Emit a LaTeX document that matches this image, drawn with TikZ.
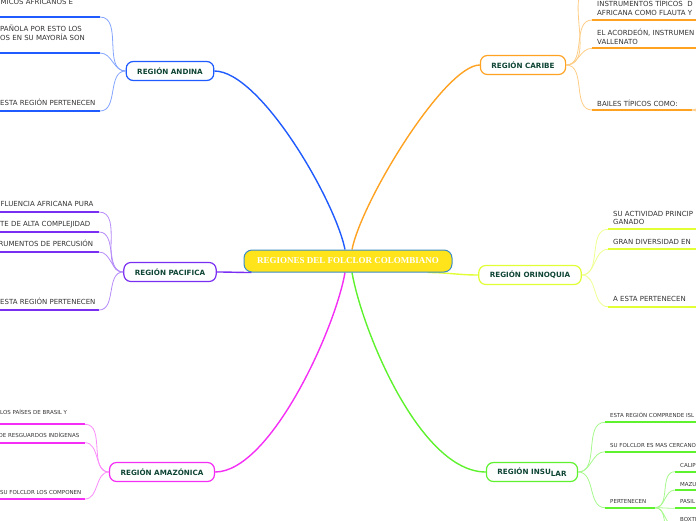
\documentclass[tikz,border=0pt]{standalone}
\usepackage{fontspec}
\setmainfont{DejaVu Sans}
\newfontfamily\titlefont{Liberation Serif}
\usetikzlibrary{calc, positioning}
\usetikzlibrary{backgrounds}

\definecolor{rootfill}{HTML}{FFE41C}
\definecolor{rootline}{HTML}{3A8CC8}
\definecolor{andinacol}{HTML}{1F5BFF}
\definecolor{caribecol}{HTML}{FFA221}
\definecolor{pacificacol}{HTML}{7A2EF2}
\definecolor{orinoquiacol}{HTML}{E2FF36}
\definecolor{amazonicacol}{HTML}{F52EF5}
\definecolor{insularcol}{HTML}{5EF22E}
\definecolor{regiontext}{HTML}{0F4535}
\definecolor{leaftext}{HTML}{333333}

\begin{document}
\begin{tikzpicture}[x=1pt,y=-1pt,
  root/.style={draw=rootline, fill=rootfill, line width=1pt, rounded corners=8pt,
    minimum width=208pt, minimum height=22pt, text=white,
    font=\titlefont\bfseries\fontsize{9}{10}\selectfont},
  region/.style={draw=#1, line width=1.2pt, fill=white, rounded corners=7pt,
    minimum height=19pt, inner xsep=11pt, inner ysep=0pt, text=regiontext,
    font=\bfseries\fontsize{7.2}{8}\selectfont},
  leaf/.style={anchor=base west, inner sep=0pt, align=left, text=leaftext,
    font=\fontsize{7}{8.5}\selectfont},
  leafsmall/.style={leaf, font=\fontsize{5.5}{7}\selectfont},
  uline/.style={draw=#1, line width=2pt},
  conn/.style={draw=#1!55, line width=0.8pt},
  trunk/.style={draw=#1, line width=1.4pt}]
\useasboundingbox (0,0) rectangle (696,520);

\node[root] (root) at (348,261) {REGIONES DEL FOLCLOR COLOMBIANO};

\node[region=andinacol] (andina) at (170,71) {REGIÓN ANDINA};
\node[region=caribecol] (caribe) at (523,65) {REGIÓN CARIBE};
\node[region=pacificacol] (pacifica) at (170,272) {REGIÓN PACIFICA};
\node[region=orinoquiacol] (orinoquia) at (530,275) {REGIÓN ORINOQUIA};
\node[region=amazonicacol] (amazonica) at (162,472) {REGIÓN AMAZÓNICA};
\node[region=insularcol] (insular) at (532,472) {REGIÓN INSU\raisebox{-1.5pt}{LAR}};

\begin{scope}[on background layer]
\draw[trunk=andinacol] ($(root.north)+(-3,0)$) .. controls (335,200) and (260,71) .. (andina.east);
\draw[trunk=caribecol] ($(root.north)+(4,0)$) .. controls (362,200) and (445,65) .. (caribe.west);
\draw[trunk=pacificacol] ($(root.south west)+(8,0)$) to[out=180,in=0] (pacifica.east);
\draw[trunk=orinoquiacol] ($(root.south east)+(-25,0)$) to[out=0,in=180] (orinoquia.west);
\draw[trunk=amazonicacol] ($(root.south)+(-3,0)$) .. controls (335,330) and (270,472) .. (amazonica.east);
\draw[trunk=insularcol] ($(root.south)+(4,0)$) .. controls (362,330) and (420,472) .. (insular.west);
\end{scope}

% andina
\foreach \i/\y in {1/17,2/53,3/111} {
  \coordinate (andina\i) at (100,\y);
  \draw[uline=andinacol] (andina\i) -- ++(-110,0);
  \draw[conn=andinacol] (andina.west) to[out=180,in=0] (andina\i);
}
\node[leaf] (andinat1) at (0.5,4.5) {MICOS AFRICANOS E};
\node[leaf] (andinat2) at (0,40) {PAÑOLA POR ESTO LOS\\OS EN SU MAYORÍA SON};
\node[leaf] (andinat3) at (0,105.5) {ESTA REGIÓN PERTENECEN};

% pacifica
\foreach \i/\y in {1/212,2/232,3/252,4/310} {
  \coordinate (pacifica\i) at (99,\y);
  \draw[uline=pacificacol] (pacifica\i) -- ++(-110,0);
  \draw[conn=pacificacol] (pacifica.west) to[out=180,in=0] (pacifica\i);
}
\node[leaf] (pacificat1) at (0.5,206.8) {FLUENCIA AFRICANA PURA};
\node[leaf] (pacificat2) at (0,226.8) {TE DE ALTA COMPLEJIDAD};
\node[leaf] (pacificat3) at (-1.6,246.6) {RUMENTOS DE PERCUSIÓN};
\node[leaf] (pacificat4) at (0,304.6) {ESTA REGIÓN PERTENECEN};

% amazonica
\foreach \i/\y in {1/424.3,2/442.7,3/499} {
  \coordinate (amazonica\i) at (85,\y);
  \draw[uline=amazonicacol] (amazonica\i) -- ++(-95,0);
  \draw[conn=amazonicacol] (amazonica.west) to[out=180,in=0] (amazonica\i);
}
\node[leafsmall] (amazonicat1) at (0,414.3) {LOS PAÍSES DE BRASIL Y};
\node[leafsmall] (amazonicat2) at (-1.5,437.7) {DE RESGUARDOS INDÍGENAS};
\node[leafsmall] (amazonicat3) at (0,494) {SU FOLCLOR LOS COMPONEN};

% caribe
\foreach \i/\y in {0/-14,1/20,2/48.3} {
  \coordinate (caribe\i) at (592,\y);
  \draw[uline=caribecol] (caribe\i) -- ++(110,0);
  \draw[conn=caribecol] (caribe.east) to[out=0,in=180] (caribe\i);
}
\coordinate (caribe3) at (592,110);
\coordinate (caribe3end) at (692,110);
\draw[uline=caribecol] (caribe3) -- (caribe3end);
\draw[conn=caribecol] (caribe.east) to[out=0,in=180] (caribe3);
\coordinate (baileA) at (712,96);
\coordinate (baileB) at (712,124);
\draw[conn=caribecol] (caribe3end) to[out=0,in=180] (baileA);
\draw[conn=caribecol] (caribe3end) to[out=0,in=180] (baileB);
\node[leaf] (caribet1) at (597,15.1) {INSTRUMENTOS TÍPICOS \ D\\AFRICANA COMO FLAUTA Y};
\node[leaf] (caribet2) at (597,44.3) {EL ACORDEÓN, INSTRUMEN\\VALLENATO};
\node[leaf] (caribet3) at (597,106) {BAILES TÍPICOS COMO:};

% orinoquia
\foreach \i/\y in {1/229.3,2/249.3,3/306.7} {
  \coordinate (orinoquia\i) at (608,\y);
  \draw[uline=orinoquiacol] (orinoquia\i) -- ++(110,0);
  \draw[conn=orinoquiacol] (orinoquia.east) to[out=0,in=180] (orinoquia\i);
}
\node[leaf] (orinoquiat1) at (613,224.8) {SU ACTIVIDAD PRINCIP\\GANADO};
\node[leaf] (orinoquiat2) at (613,244.8) {GRAN DIVERSIDAD EN};
\node[leaf] (orinoquiat3) at (613,301.8) {A ESTA PERTENECEN};

% insular
\foreach \i/\y in {1/422.3,2/451.7} {
  \coordinate (insular\i) at (605,\y);
  \draw[uline=insularcol] (insular\i) -- ++(110,0);
  \draw[conn=insularcol] (insular.east) to[out=0,in=180] (insular\i);
}
\coordinate (insular3) at (605,507.7);
\coordinate (insular3end) at (655,507.7);
\draw[uline=insularcol] (insular3) -- (insular3end);
\draw[conn=insularcol] (insular.east) to[out=0,in=180] (insular3);
\node[leafsmall] (insulart1) at (610,417.7) {ESTA REGIÓN COMPRENDE ISL};
\node[leafsmall] (insulart2) at (610,447.7) {SU FOLCLOR ES MAS CERCANO};
\node[leafsmall] (insulart3) at (610,503.7) {PERTENECEN};

\foreach \i/\y in {1/471.7,2/490,3/508.3,4/526,5/544} {
  \coordinate (ritmo\i) at (675,\y);
  \draw[uline=insularcol] (ritmo\i) -- ++(40,0);
  \draw[conn=insularcol] (insular3end) to[out=0,in=180] (ritmo\i);
}
\node[leafsmall] (ritmot1) at (680,467.7) {CALIP};
\node[leafsmall] (ritmot2) at (680,486) {MAZU};
\node[leafsmall] (ritmot3) at (680,503.7) {PASIL};
\node[leafsmall] (ritmot4) at (680,521.5) {BOXTI};
\end{tikzpicture}
\end{document}
